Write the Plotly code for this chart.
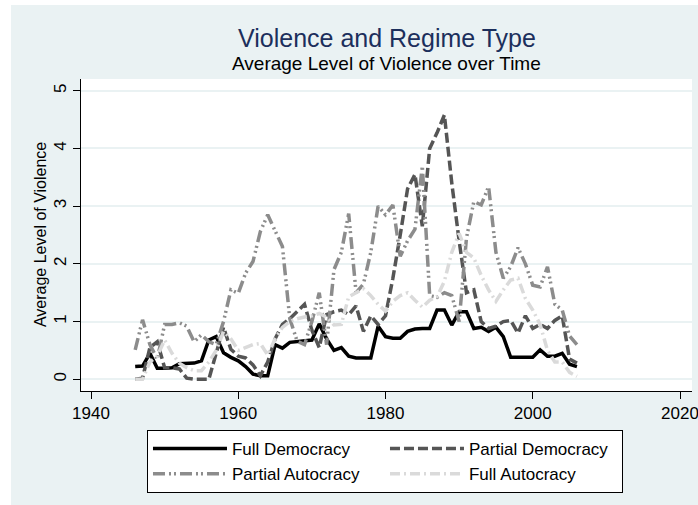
import plotly.graph_objects as go

# yearly averages, 1946-2006
years = list(range(1946, 2007))

full_democracy = [
    0.22, 0.23, 0.45, 0.19, 0.19, 0.20, 0.27, 0.28, 0.28, 0.32,
    0.68, 0.74, 0.46, 0.38, 0.32, 0.22, 0.09, 0.06, 0.06, 0.60,
    0.54, 0.64, 0.65, 0.66, 0.68, 0.96, 0.70, 0.50, 0.55, 0.40,
    0.37, 0.37, 0.37, 0.92, 0.74, 0.71, 0.71, 0.83, 0.87, 0.88,
    0.88, 1.20, 1.20, 0.94, 1.17, 1.17, 0.88, 0.90, 0.83, 0.90,
    0.74, 0.38, 0.38, 0.38, 0.38, 0.51, 0.40, 0.40, 0.45, 0.26,
    0.22,
]
partial_democracy = [
    0.00, 0.02, 0.55, 0.65, 0.20, 0.20, 0.18, 0.02, 0.00, 0.00,
    0.00, 0.45, 0.90, 0.52, 0.40, 0.37, 0.25, 0.06, 0.30, 0.70,
    0.95, 1.05, 1.18, 1.30, 0.85, 0.55, 1.12, 1.17, 1.20, 1.12,
    1.27, 0.83, 1.10, 0.95, 1.10, 1.75, 2.50, 3.30, 3.55, 2.65,
    4.00, 4.27, 4.58, 3.40, 2.40, 1.50, 1.55, 1.00, 0.88, 0.92,
    1.00, 1.02, 0.80, 1.10, 0.88, 0.95, 0.88, 1.02, 1.10, 0.35,
    0.28,
]
partial_autocracy = [
    0.51, 1.03, 0.60, 0.35, 0.95, 0.95, 0.98, 0.92, 0.65, 0.77,
    0.65, 0.60, 1.00, 1.55, 1.49, 1.84, 2.04, 2.56, 2.85, 2.59,
    2.30, 1.05, 0.66, 0.60, 1.00, 1.50, 0.60, 1.90, 2.20, 2.87,
    1.50, 1.65, 2.20, 3.00, 2.85, 3.02, 2.13, 2.40, 2.60, 3.69,
    1.45, 1.42, 1.50, 1.45, 1.00, 2.45, 3.08, 3.02, 3.34, 2.20,
    1.75, 1.95, 2.28, 2.00, 1.63, 1.60, 1.95, 1.30, 1.20, 0.75,
    0.60,
]
full_autocracy = [
    0.00, 0.00, 0.30, 0.40, 0.68, 0.45, 0.28, 0.20, 0.15, 0.15,
    0.30, 0.50, 0.83, 0.70, 0.50, 0.55, 0.60, 0.62, 0.42, 0.70,
    0.90, 1.00, 1.05, 1.08, 1.10, 1.14, 1.08, 0.94, 0.95, 1.43,
    1.50, 1.57, 1.45, 1.30, 1.18, 1.35, 1.45, 1.50, 1.37, 1.25,
    1.37, 1.43, 1.70, 2.20, 2.53, 2.20, 2.10, 1.80, 1.55, 1.35,
    1.55, 1.72, 1.75, 1.40, 1.20, 0.95, 0.50, 0.30, 0.30, 0.12,
    0.05,
]

x_ticks = [1940, 1960, 1980, 2000, 2020]
y_ticks = [0, 1, 2, 3, 4, 5]

font = "Liberation Sans, Arial, sans-serif"
bg = "#EAF2F3"

series = [
    ("Full Democracy", full_democracy, "#000000", "solid"),
    ("Partial Democracy", partial_democracy, "#555555", "10px,4px"),
    ("Partial Autocracy", partial_autocracy, "#8c8c8c", "12px,4px,2px,3px,2px,4px"),
    ("Full Autocracy", full_autocracy, "#dadada", "10px,4px,2px,4px"),
]

fig = go.Figure()
for name, vals, color, dash in series:
    fig.add_trace(go.Scatter(
        x=years, y=vals, mode="lines", name=name,
        line=dict(color=color, width=3.5, dash=dash),
    ))

fig.update_layout(
    width=698, height=505,
    margin=dict(l=81, r=6, t=79, b=114),
    paper_bgcolor=bg,
    plot_bgcolor="white",
    font=dict(family=font, size=17, color="black"),
    showlegend=True,
    legend=dict(
        orientation="h", x=0.108, xanchor="left", y=-0.125, yanchor="top",
        bgcolor="white", bordercolor="black", borderwidth=1,
        font=dict(size=17), itemwidth=74, entrywidth=148,
        traceorder="normal",
    ),
    xaxis=dict(
        range=[1938.64, 2021.63], tickvals=x_ticks, showgrid=False,
        showline=True, linecolor="black", linewidth=1,
        ticks="outside", ticklen=7, tickcolor="black",
        tickfont=dict(size=17), zeroline=False,
        automargin=False, ticklabeloverflow="allow",
    ),
    yaxis=dict(
        range=[-0.203, 5.203], tickvals=y_ticks, showgrid=True,
        gridcolor=bg, gridwidth=1.5,
        showline=True, linecolor="black", linewidth=1,
        ticks="outside", ticklen=7, tickcolor="black",
        tickangle=-90, tickfont=dict(size=17), zeroline=False,
        automargin=False,
    ),
    shapes=[
        # thin white outer margin at left and top
        dict(type="rect", xref="paper", yref="paper", x0=-0.1326, x1=-0.1146,
             y0=-0.3654, y1=1.2532, fillcolor="white", line_width=0, layer="below"),
        dict(type="rect", xref="paper", yref="paper", x0=-0.1326, x1=1.0098,
             y0=1.2372, y1=1.2532, fillcolor="white", line_width=0, layer="below"),
    ],
    annotations=[
        dict(text="Violence and Regime Type", xref="paper", yref="paper",
             x=0.5, y=1.131, xanchor="center", yanchor="middle", showarrow=False,
             font=dict(size=25, color="#1c2f5c")),
        dict(text="Average Level of Violence over Time", xref="paper", yref="paper",
             x=0.5, y=1.051, xanchor="center", yanchor="middle", showarrow=False,
             font=dict(size=19, color="black")),
        dict(text="Average Level of Violence", xref="paper", yref="paper",
             x=-0.067, y=0.5, xanchor="center", yanchor="middle", showarrow=False,
             textangle=-90, font=dict(size=16, color="black")),
    ],
)

# drop the page's default body margin so the figure sits at the window corner
fig.write_html(
    "out.html",
    config={"displayModeBar": False},
    post_script="document.body.style.margin='0';",
)
